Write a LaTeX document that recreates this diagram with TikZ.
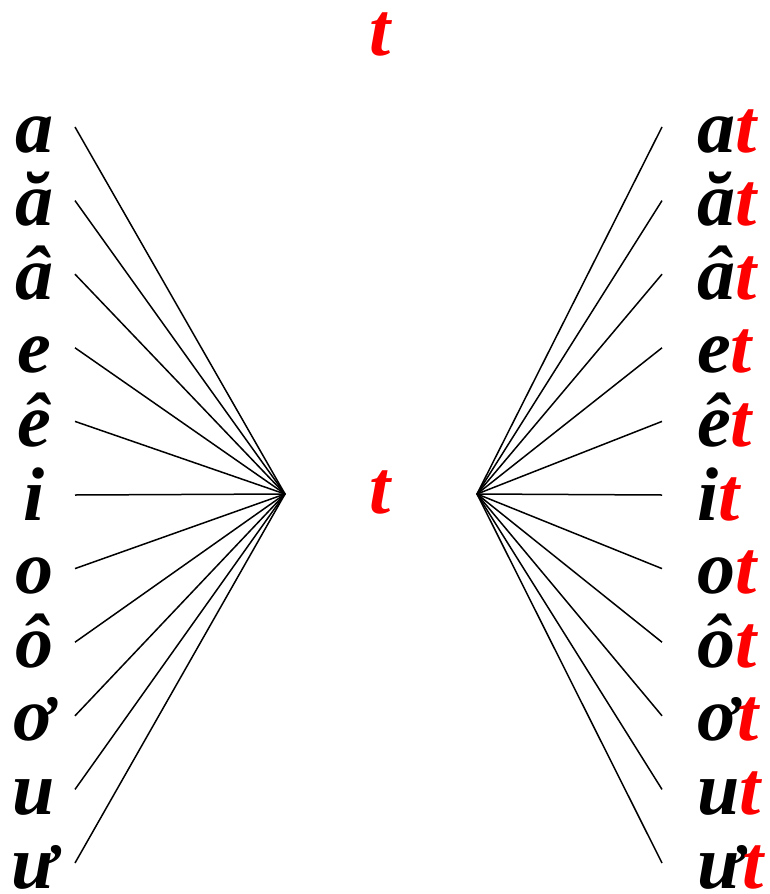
\documentclass[tikz,border=0pt]{standalone}
\usepackage{fontspec}
\setmainfont{Liberation Serif}
\begin{document}
\begin{tikzpicture}[x=1pt,y=-1pt,
  lbl/.style={font=\fontsize{76}{80}\selectfont\bfseries\itshape, inner sep=0pt, text height=0.62em, text depth=0pt},
  conn/.style={line width=1.5pt}]
\useasboundingbox (0,0) rectangle (769,894);
\coordinate (L) at (285,494);
\coordinate (R) at (477,494);
\node[lbl, text=red, anchor=base] (tt) at (380,55) {t};
\node[lbl, text=red, anchor=base] (tc) at (380,513) {t};
\foreach \v [count=\i] in {a,ă,â,e,ê,i,o,ô,ơ,u,ư} {
  \pgfmathsetmacro\yy{127+73.6*(\i-1)}
  \coordinate (l\i) at (75,\yy);
  \coordinate (r\i) at (662,\yy);
  \node[lbl, anchor=base] (lv\i) at (34,\yy+25) {\v};
  \node[lbl, anchor=base west] (rv\i) at (697,\yy+25) {\v\textcolor{red}{t}};
  \draw[conn] (l\i) -- (L);
  \draw[conn] (R) -- (r\i);
}
\end{tikzpicture}
\end{document}
